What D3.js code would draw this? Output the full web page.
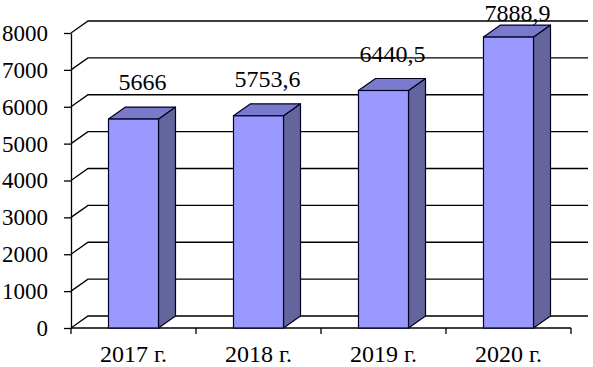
<!DOCTYPE html>
<html><head><meta charset="utf-8">
<script src="https://cdn.jsdelivr.net/npm/d3@7/dist/d3.min.js"></script>
<style>
html,body{margin:0;padding:0;background:#fff;}
svg{display:block;}
</style></head>
<body><svg id="c" width="593" height="367"></svg>
<script>
const categories = ["2017 г.", "2018 г.", "2019 г.", "2020 г."];
const values = [5666, 5753.6, 6440.5, 7888.9];
const valueLabels = ["5666", "5753,6", "6440,5", "7888,9"];
const yTicks = [0, 1000, 2000, 3000, 4000, 5000, 6000, 7000, 8000];

const FONT = '"Liberation Serif"';
const svg = d3.select("#c");
const DX = 17, DY = 12;
const x = d3.scaleBand().domain(categories).range([71, 571]).padding(0);
const y = d3.scaleLinear().domain([0, 8000]).range([328, 33]);
const x0 = x.range()[0], x1 = x.range()[1];
const y0 = y(0);

// gridlines (diagonal on side + back wall horizontal)
const g = svg.append("g");
yTicks.forEach(t => {
  const yy = y(t);
  g.append("path")
    .attr("d", `M${x0},${yy}L${x0+DX},${yy-DY}L${x1+DX},${yy-DY}`)
    .attr("fill", "none").attr("stroke", "#000").attr("stroke-width", 1.3);
});

// y axis
const yAxis = d3.axisLeft(y).tickValues(yTicks).tickSize(7).tickSizeOuter(0).tickPadding(16)
  .tickFormat(d3.format("d"));
const ya = svg.append("g").attr("transform", `translate(${x0},0)`).call(yAxis);
ya.selectAll("path,line").attr("stroke", "#000").attr("stroke-width", 1.3);
ya.selectAll("text").attr("font-size", 23).style("font-family", FONT).attr("fill", "#000");

// x axis baseline and ticks at band boundaries
svg.append("line").attr("x1", x0).attr("x2", x1).attr("y1", y0).attr("y2", y0)
  .attr("stroke", "#000").attr("stroke-width", 1.3);
const bounds = categories.map(c => x(c)).concat([x1]);
svg.selectAll(".xt").data(bounds).enter().append("line")
  .attr("x1", d => d).attr("x2", d => d).attr("y1", y0).attr("y2", y0 + 6)
  .attr("stroke", "#000").attr("stroke-width", 1.3);
svg.selectAll(".xl").data(categories).enter().append("text")
  .attr("x", d => x(d) + x.bandwidth() / 2).attr("y", 362)
  .attr("text-anchor", "middle").attr("font-size", 24).style("font-family", FONT).text(d => d);

// bars
const bw = x.bandwidth() * 0.4;
const bars = svg.selectAll(".bar").data(categories.map((c, i) => ({c, v: values[i], l: valueLabels[i]})))
  .enter().append("g");
bars.each(function(d) {
  const gg = d3.select(this);
  const cx = x(d.c) + x.bandwidth() / 2;
  const L = cx - bw / 2, R = cx + bw / 2, T = y(d.v);
  gg.append("path").attr("d", `M${R},${T}L${R+DX},${T-DY}L${R+DX},${y0-DY}L${R},${y0}Z`)
    .attr("fill", "#65659e").attr("stroke", "#000022").attr("stroke-width", 1.2).attr("stroke-linejoin", "round");
  gg.append("path").attr("d", `M${L},${T}L${L+DX},${T-DY}L${R+DX},${T-DY}L${R},${T}Z`)
    .attr("fill", "#7a7acc").attr("stroke", "#000022").attr("stroke-width", 1.2).attr("stroke-linejoin", "round");
  gg.append("rect").attr("x", L).attr("y", T).attr("width", bw).attr("height", y0 - T)
    .attr("fill", "#9999ff").attr("stroke", "#000022").attr("stroke-width", 1.2);
  gg.append("text").attr("x", cx + 9).attr("y", Math.max(T - DY - 17, 21))
    .attr("text-anchor", "middle").attr("font-size", 24).style("font-family", FONT).text(d.l);
});
</script></body></html>
